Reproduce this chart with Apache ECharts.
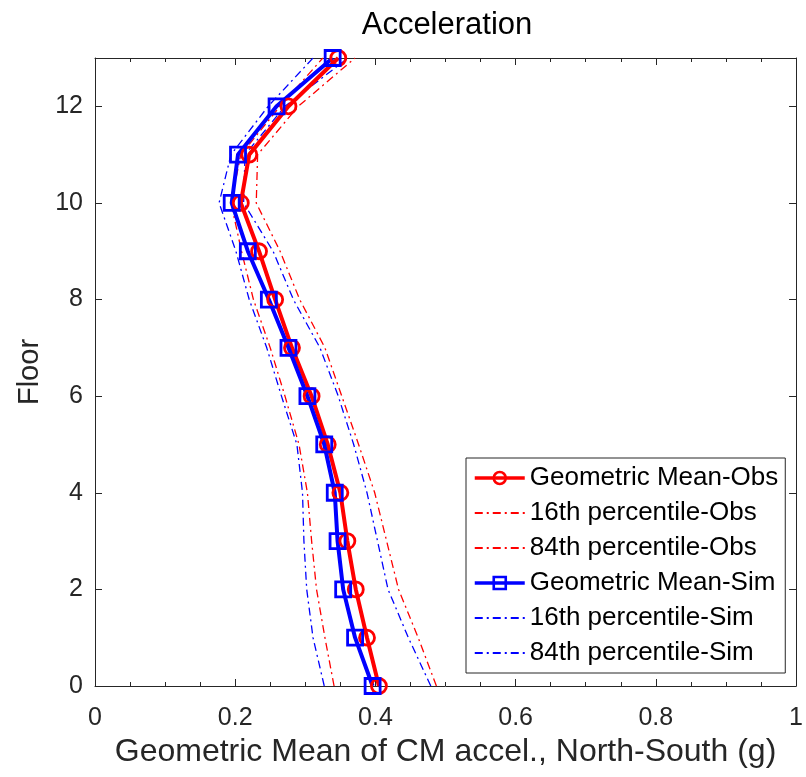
<!DOCTYPE html>
<html>
<head>
<meta charset="utf-8">
<script src="https://cdn.jsdelivr.net/npm/echarts@6/dist/echarts.min.js"></script>
<style>html,body{margin:0;padding:0;background:#fff}#c{width:806px;height:777px}</style>
</head>
<body>
<div id="c"></div>
<script>
const floors = [0,1,2,3,4,5,6,7,8,9,10,11,12,13];
const obsMean = [0.405,0.388,0.372,0.360,0.350,0.332,0.309,0.281,0.257,0.234,0.208,0.220,0.276,0.347];
const obs16   = [0.341,0.328,0.316,0.309,0.303,0.291,0.271,0.250,0.226,0.209,0.194,0.208,0.264,0.325];
const obs84   = [0.487,0.461,0.433,0.416,0.399,0.376,0.352,0.328,0.292,0.264,0.230,0.232,0.290,0.371];
const simMean = [0.396,0.371,0.354,0.346,0.342,0.327,0.303,0.276,0.248,0.218,0.195,0.204,0.259,0.339];
const sim16   = [0.327,0.311,0.302,0.298,0.296,0.288,0.266,0.245,0.220,0.201,0.177,0.194,0.247,0.311];
const sim84   = [0.479,0.447,0.418,0.403,0.388,0.369,0.347,0.321,0.283,0.254,0.212,0.214,0.271,0.361];
const xTicks = [0,0.2,0.4,0.6,0.8,1];
const yTicks = [0,2,4,6,8,10,12];
const names = ['Geometric Mean-Obs','16th percentile-Obs','84th percentile-Obs','Geometric Mean-Sim','16th percentile-Sim','84th percentile-Sim'];

const FONT = "'Liberation Sans', Arial, Helvetica, sans-serif";
const AX = '#262626';
const pts = arr => arr.map((v,i)=>[v, floors[i]]);
const dash = [8,4,2,4];
const CLEAR = 'rgba(0,0,0,0)';

function meanSeries(name, data, color, symbol){
  return {name, type:'line', data:pts(data), symbol, symbolSize:15, showSymbol:true,
    lineStyle:{color, width:4}, itemStyle:{color:CLEAR, borderColor:color, borderWidth:2.8},
    z:3, animation:false};
}
function pctSeries(name, data, color){
  return {name, type:'line', data:pts(data), symbol:'circle', symbolSize:1, showSymbol:false,
    lineStyle:{color, width:1.3, type:dash}, itemStyle:{color:CLEAR, borderWidth:0}, z:2, animation:false};
}

const legendData = names.map((n,i)=> (i===0||i===3)
  ? {name:n, lineStyle:{width:3.5}, itemStyle:{borderWidth:2.6}}
  : {name:n});

const chart = echarts.init(document.getElementById('c'), null, {renderer:'canvas'});
chart.setOption({
  backgroundColor:'#fff',
  animation:false,
  title:{text:'Acceleration', left:442, textAlign:'center', top:5,
    textStyle:{fontFamily:FONT, fontSize:31, fontWeight:'normal', color:'#000'}},
  grid:{left:95, right:9, top:58, bottom:91, containLabel:false},
  legend:{orient:'vertical', left:466, top:458, padding:[7,7,7,7], itemGap:9, itemWidth:50, itemHeight:15, itemTextGap:6,
    backgroundColor:'#fff', borderColor:'#262626', borderWidth:1, borderRadius:0,
    textStyle:{fontFamily:FONT, fontSize:26, color:'#000', lineHeight:26},
    data:legendData},
  xAxis:[{type:'value', min:0, max:1, interval:0.2, position:'bottom',
    name:'Geometric Mean of CM accel., North-South (g)', nameLocation:'middle', nameGap:40,
    nameTextStyle:{fontFamily:FONT, fontSize:32, color:AX},
    axisLine:{show:true, onZero:false, lineStyle:{color:AX, width:1}},
    axisTick:{show:true, inside:true, length:7, lineStyle:{color:AX}},
    minorTick:{show:true, splitNumber:4, length:4, lineStyle:{color:AX}},
    splitLine:{show:false},
    axisLabel:{fontFamily:FONT, fontSize:25, color:AX, margin:20,
      formatter:v=> xTicks.some(t=>Math.abs(t-v)<1e-9) ? String(+v.toFixed(1)) : ''}},
   {type:'value', min:0, max:1, interval:0.2, position:'top',
    axisLine:{show:true, onZero:false, lineStyle:{color:AX, width:1}},
    axisTick:{show:true, inside:true, length:7, lineStyle:{color:AX}},
    minorTick:{show:true, splitNumber:4, length:4, lineStyle:{color:AX}},
    splitLine:{show:false}, axisLabel:{show:false}}],
  yAxis:[{type:'value', min:0, max:13, interval:2, position:'left',
    name:'Floor', nameLocation:'middle', nameGap:45, nameRotate:90,
    nameTextStyle:{fontFamily:FONT, fontSize:29, color:AX},
    axisLine:{show:true, onZero:false, lineStyle:{color:AX, width:1}},
    axisTick:{show:true, inside:true, length:7, lineStyle:{color:AX}},
    splitLine:{show:false},
    axisLabel:{fontFamily:FONT, fontSize:25, color:AX, margin:12,
      formatter:v=> yTicks.includes(v) ? String(v) : ''}},
   {type:'value', min:0, max:13, interval:2, position:'right',
    axisLine:{show:true, onZero:false, lineStyle:{color:AX, width:1}},
    axisTick:{show:true, inside:true, length:7, lineStyle:{color:AX}},
    splitLine:{show:false}, axisLabel:{show:false}}],
  series:[
    meanSeries(names[0], obsMean, '#ff0000', 'circle'),
    pctSeries(names[1], obs16, '#ff0000'),
    pctSeries(names[2], obs84, '#ff0000'),
    meanSeries(names[3], simMean, '#0000ff', 'rect'),
    pctSeries(names[4], sim16, '#0000ff'),
    pctSeries(names[5], sim84, '#0000ff')
  ]
});
</script>
</body>
</html>
